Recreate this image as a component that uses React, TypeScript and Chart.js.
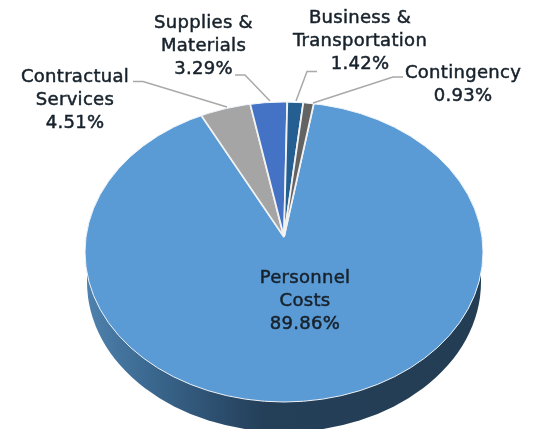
import React, { useEffect, useRef } from "react";
import { Chart, registerables } from "chart.js";

Chart.register(...registerables);

const categories = ["Personnel Costs", "Contractual Services", "Supplies & Materials", "Business & Transportation", "Contingency"];
const shares = [89.86, 4.51, 3.29, 1.42, 0.93];
const sliceColors = ["#5B9BD5", "#A5A5A5", "#4472C4", "#255E91", "#636363"];
const labelLines = [
  ["Personnel", "Costs", "89.86%"],
  ["Contractual", "Services", "4.51%"],
  ["Supplies &", "Materials", "3.29%"],
  ["Business &", "Transportation", "1.42%"],
  ["Contingency", "0.93%"],
];

const FONT = '18px "DejaVu Sans"';
const face = { cx: 284, cy: 252, rx: 199, ry: 150, apexY: 237, tilt: 0.75, depth: 30 };
const labelPlacement = [
  { x: 305, y: 278.5 },
  { x: 75, y: 77.5 },
  { x: 203.5, y: 23.5 },
  { x: 360, y: 18.5 },
  { x: 463, y: 73.5 },
];
const leaders: ([number, number][] | null)[] = [
  null,
  [[133, 81.5], [143, 81.5], [227, 107]],
  [[235, 75], [245, 75], [270, 101]],
  [[317, 71.5], [307, 71.5], [296, 101]],
  [[403, 77], [393, 77], [313, 103]],
];

const pie3d = {
  id: "pie3d",
  beforeDatasetsDraw(chart: any) {
    const { ctx } = chart;
    const arc = chart.getDatasetMeta(0).data[0];
    const { cx, cy, rx, ry, apexY, tilt, depth } = face;
    ctx.save();
    const grad = ctx.createLinearGradient(cx - rx, 0, cx + rx, 0);
    grad.addColorStop(0, "#4f82ae");
    grad.addColorStop(0.15, "#3c6a92");
    grad.addColorStop(0.35, "#2b4c6b");
    grad.addColorStop(0.45, "#243f58");
    grad.addColorStop(1, "#233d54");
    ctx.fillStyle = grad;
    ctx.beginPath();
    ctx.ellipse(cx, cy + depth, rx - 2, ry, 0, 0, Math.PI);
    ctx.lineTo(cx - rx + 2, cy);
    ctx.lineTo(cx + rx - 2, cy);
    ctx.closePath();
    ctx.fill();
    ctx.restore();
    const k = 1.2;
    ctx.save();
    ctx.beginPath();
    ctx.ellipse(cx, cy, rx, ry, 0, 0, Math.PI * 2);
    ctx.clip();
    ctx.translate(cx, apexY);
    ctx.scale(k, k * tilt);
    ctx.translate(-arc.x, -arc.y);
  },
  afterDatasetsDraw(chart: any) {
    const { ctx } = chart;
    const { cx, cy, rx, ry } = face;
    ctx.restore();
    ctx.save();
    ctx.strokeStyle = "#eef3f8";
    ctx.lineWidth = 1;
    ctx.beginPath();
    ctx.ellipse(cx, cy, rx, ry, 0, 0, Math.PI * 2);
    ctx.stroke();

    ctx.strokeStyle = "#a9a9a9";
    ctx.lineWidth = 1.5;
    leaders.forEach((pts) => {
      if (!pts) return;
      ctx.beginPath();
      pts.forEach(([x, y], i) => (i ? ctx.lineTo(x, y) : ctx.moveTo(x, y)));
      ctx.stroke();
    });

    ctx.fillStyle = "#17222c";
    ctx.strokeStyle = "#17222c";
    ctx.lineWidth = 0.5;
    ctx.font = FONT;
    (ctx as any).letterSpacing = "0.3px";
    ctx.textAlign = "center";
    ctx.textBaseline = "middle";
    labelLines.forEach((lines, i) => {
      lines.forEach((line, j) => {
        const x = labelPlacement[i].x;
        const y = labelPlacement[i].y + j * 22.7;
        ctx.fillText(line, x, y);
        ctx.strokeText(line, x, y);
      });
    });
    ctx.restore();
  },
};

export default function App() {
  const ref = useRef<HTMLCanvasElement>(null);
  useEffect(() => {
    const chart = new Chart(ref.current!, {
      type: "pie",
      data: {
        labels: categories,
        datasets: [
          {
            data: shares,
            backgroundColor: sliceColors,
            borderColor: "#f2f2f2",
            borderWidth: 1.5,
            clip: false,
          } as any,
        ],
      },
      options: {
        animation: false,
        responsive: false,
        rotation: 9.5,
        layout: { padding: 0 },
        plugins: { legend: { display: false }, tooltip: { enabled: false } },
      },
      plugins: [pie3d],
    });
    return () => chart.destroy();
  }, []);
  return (
    <div style={{ position: "fixed", left: 0, top: 0, width: 538, height: 429, background: "#fff", overflow: "hidden" }}>
      <canvas ref={ref} width={538} height={429} style={{ display: "block" }} />
    </div>
  );
}
